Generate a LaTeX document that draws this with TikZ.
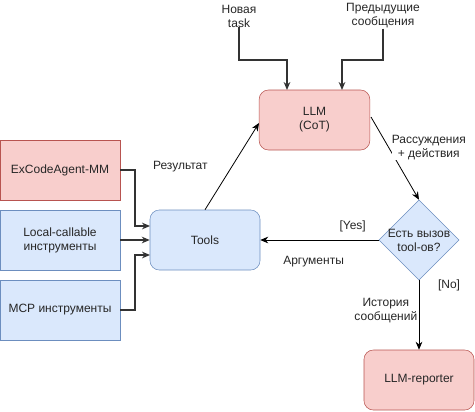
\documentclass[tikz,border=0pt]{standalone}
\usepackage{fontspec}
\setmainfont{Liberation Sans}
\usetikzlibrary{arrows.meta,shapes.geometric}
\definecolor{redfill}{HTML}{F8CECC}
\definecolor{redline}{HTML}{B85450}
\definecolor{bluefill}{HTML}{DAE8FC}
\definecolor{blueline}{HTML}{6C8EBF}

\begin{document}
\begin{tikzpicture}[x=0.75pt,y=-0.75pt]
      \tikzset{
        every node/.style={font=\fontsize{9}{10.5}\selectfont,align=center,inner sep=0pt,text=black!85},
        redbox/.style={draw=redline,fill=redfill,minimum width=90pt,minimum height=45pt},
        bluebox/.style={draw=blueline,fill=bluefill,minimum width=90pt,minimum height=45pt},
        llmbox/.style={redbox,rounded corners=7pt,minimum width=83pt},
        toolbox/.style={bluebox,rounded corners=7pt,minimum width=82.5pt},
        decision/.style={diamond,draw=blueline,fill=bluefill,minimum width=60pt,minimum height=60pt},
        arr/.style={-{Stealth[length=6pt,width=5pt]},black,line width=0.6pt},
        grayarr/.style={-{Stealth[length=6pt,width=5pt]},black!80,line width=0.9pt}
      }
      \useasboundingbox (0,0) rectangle (475,411);

      % nodes
      \node[llmbox] (llm) at (314.5,120) {LLM\\(CoT)};
      \node[redbox] (agent) at (60,170) {ExCodeAgent-MM};
      \node[bluebox] (local) at (60,240) {Local-callable\\инструменты};
      \node[bluebox] (mcp) at (60,310) {MCP инструменты};
      \node[toolbox] (tools) at (205,240) {Tools};
      \node[decision,label={[align=center]center:Есть вызов\\tool-ов?}] (call) at (419,240) {};
      \node[llmbox,minimum width=82.5pt] (reporter) at (419,380) {LLM-reporter};

      % free texts
      \node (task) at (239,16) {Новая\\task};
      \node (prev) at (383,16) {Предыдущие\\сообщения};

      % connectors
      \draw[grayarr] (task.south) -- (239,60) -| (287,90);
      \draw[grayarr] (prev.south) -- (383,60) -| (342,90);
      \draw[grayarr] (agent.east) -- (135,170) |- (150,226);
      \draw[grayarr] (local.east) -- (tools.west);
      \draw[grayarr] (mcp.east) -- (135,310) |- (150,255);
      \draw[arr] (tools.north) -- (259,123) node[pos=0.5,left=18pt] {Результат};
      \draw[arr] (371,117) -- (call.north) node[pos=0.37,right=2pt,fill=white] {Рассуждения\\+ действия};
      \draw[arr] (call.west) -- (tools.east)
        node[pos=0.22,above=6pt] {[Yes]}
        node[pos=0.55,below=12pt] {Аргументы};
      \draw[arr] (call.south) -- (reporter.north)
        node[pos=0.07,right=14pt] {[No]}
        node[pos=0.44,left=1pt,fill=white] {История\\сообщений};
\end{tikzpicture}
\end{document}
